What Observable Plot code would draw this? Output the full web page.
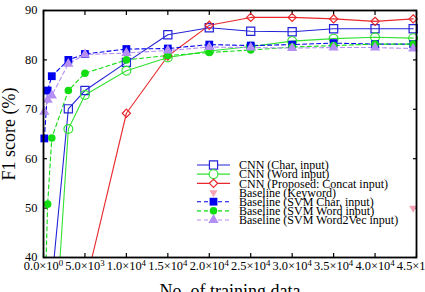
<!DOCTYPE html>
<html>
<head>
<meta charset="utf-8">
<script src="https://cdn.jsdelivr.net/npm/d3@7"></script>
<script src="https://cdn.jsdelivr.net/npm/@observablehq/plot@0.6"></script>
<style>
  body { margin: 0; background: #fff; }
  #chart { position: relative; width: 425px; height: 292px; overflow: hidden; }
</style>
</head>
<body>
<div id="chart"></div>
<script>
// Training-set sizes used for each family of runs
const svmSizes = [100, 500, 1000, 3000, 5000, 10000, 15000, 20000, 25000, 30000, 35000, 40000, 44600];
const cnnSizes = [1000, 3000, 5000, 10000, 15000, 20000, 25000, 30000, 35000, 40000, 44600];
const concatSizes = [5000, 10000, 15000, 20000, 25000, 30000, 35000, 40000, 44600];
const keywordSizes = [44600];

// F1 scores (%)
const cnnChar   = [35.0, 70.1, 73.8, 79.5, 85.1, 86.5, 85.8, 85.7, 86.3, 86.3, 86.3];
const cnnWord   = [14.0, 66.0, 72.9, 77.8, 80.5, 81.8, 82.7, 83.8, 84.3, 84.6, 84.4];
const cnnConcat = [34.0, 69.2, 80.8, 87.0, 88.6, 88.6, 88.3, 87.8, 88.3];
const keyword   = [50.0];
const svmChar   = [64.1, 73.8, 76.7, 80.0, 81.2, 82.2, 82.3, 83.1, 82.9, 83.1, 83.4, 83.2, 83.2];
const svmWord   = [27.0, 50.8, 64.2, 73.8, 77.3, 80.0, 80.9, 81.5, 82.0, 82.6, 82.9, 83.2, 83.2];
const svmW2v    = [69.5, 71.9, 72.8, 79.2, 81.1, 81.4, 81.9, 82.6, 82.5, 82.4, 82.5, 82.5, 82.3];

// Axis ticks
const xTicks = [0, 5000, 10000, 15000, 20000, 25000, 30000, 35000, 40000, 45000];
const xTickMantissa = ["0.0", "5.0", "1.0", "1.5", "2.0", "2.5", "3.0", "3.5", "4.0", "4.5"];
const xTickExponent = ["0", "3", "4", "4", "4", "4", "4", "4", "4", "4"];
const yTicks = [40, 50, 60, 70, 80, 90];

// Series styling
const seriesDefs = [
  {name: "CNN (Char. input)",               sizes: cnnSizes,     values: cnnChar,   color: "#2323d8", line: true, dash: null,  symbol: "square",   r: 4.6, filled: false},
  {name: "CNN (Word input)",                sizes: cnnSizes,     values: cnnWord,   color: "#33e033", line: true, dash: null,  symbol: "circle",   r: 4.4, filled: false},
  {name: "CNN (Proposed: Concat input)",    sizes: concatSizes,  values: cnnConcat, color: "#e8282c", line: true, dash: null,  symbol: "diamond2", r: 3.7, filled: false},
  {name: "Baseline (Keyword)",              sizes: keywordSizes, values: keyword,   color: "#f6a3b6", line: false, dash: null, symbol: "triangle", r: 3.0, filled: true, rotate: 180},
  {name: "Baseline (SVM Char. input)",      sizes: svmSizes,     values: svmChar,   color: "#0000ee", line: true, dash: "4,3", symbol: "square",   r: 4.4, filled: true},
  {name: "Baseline (SVM Word input)",       sizes: svmSizes,     values: svmWord,   color: "#11dd11", line: true, dash: "4,3", symbol: "circle",   r: 3.8, filled: true},
  {name: "Baseline (SVM Word2Vec input)",   sizes: svmSizes,     values: svmW2v,    color: "#b48ef2", line: true, dash: "4,3", symbol: "triangle", r: 3.8, filled: true}
];

const yMin = 40, yMax = 90;
const serif = "'Liberation Serif', 'Times New Roman', serif";

const marks = [];
for (const s of seriesDefs) {
  const rows = s.sizes.map((n, i) => ({n, f1: s.values[i]}));
  if (s.line) {
    marks.push(Plot.line(rows, {x: "n", y: "f1", stroke: s.color, strokeWidth: 1.1, strokeDasharray: s.dash, clip: true}));
  }
}
for (const s of seriesDefs) {
  const rows = s.sizes.map((n, i) => ({n, f1: s.values[i]}));
  marks.push(Plot.dot(rows, {
    x: "n", y: "f1", symbol: () => s.symbol, r: s.r,
    filter: (d) => d.f1 >= yMin,
    fill: s.filled ? s.color : "none",
    stroke: s.filled ? "none" : s.color,
    strokeWidth: 1.2,
    rotate: s.rotate || 0
  }));
}

const noLabel = () => "";

const chart = Plot.plot({
  width: 425,
  height: 292,
  marginLeft: 43,
  marginRight: 9,
  marginTop: 10,
  marginBottom: 35,
  style: {fontFamily: serif, fontSize: "12px", color: "#000", background: "#fff"},
  symbol: {type: "identity"},
  x: {domain: [0, 45000]},
  y: {domain: [yMin, yMax]},
  marks: [
    // inward tick marks on all four sides
    Plot.axisX(xTicks, {anchor: "bottom", tickSize: -4, tickFormat: noLabel, label: null, strokeWidth: 1.2}),
    Plot.axisX(xTicks, {anchor: "top", tickSize: -4, tickFormat: noLabel, label: null, strokeWidth: 1.2}),
    Plot.axisY(yTicks, {anchor: "left", tickSize: -4, tickFormat: noLabel, label: null, strokeWidth: 1.2}),
    Plot.axisY(yTicks, {anchor: "right", tickSize: -4, tickFormat: noLabel, label: null, strokeWidth: 1.2}),
    // tick labels and titles
    Plot.axisX(xTicks, {anchor: "bottom", tickSize: 0, tickPadding: 4,
      tickFormat: (d) => xTickMantissa[xTicks.indexOf(d)] + "×10^" + xTickExponent[xTicks.indexOf(d)],
      label: "No. of training data", labelAnchor: "center", labelOffset: 39, labelArrow: "none"}),
    Plot.axisY(yTicks, {anchor: "left", tickSize: 0, tickPadding: 6,
      label: "F1 score (%)", labelAnchor: "center", labelOffset: 41, labelArrow: "none"}),
    ...marks,
    Plot.frame({stroke: "#000", strokeWidth: 1.8})
  ]
});

document.getElementById("chart").appendChild(chart);

const svg = d3.select(chart);

// tick label sizes
svg.selectAll('g[aria-label="x-axis tick label"] text, g[aria-label="y-axis tick label"] text')
  .attr("font-size", null).style("font-size", "12.4px").style("font-family", serif);

// superscript exponents in x tick labels
svg.selectAll('g[aria-label="x-axis tick label"] text').each(function () {
  const t = this.textContent;
  const m = t.match(/^(.*)\^(.*)$/);
  if (!m) return;
  const el = d3.select(this);
  el.text(m[1]);
  el.append("tspan").attr("dy", "-0.45em").style("font-size", "8.8px").text(m[2]);
});

// axis title sizes
svg.selectAll('g[aria-label="x-axis label"] text, g[aria-label="y-axis label"] text')
  .attr("font-size", null).style("font-size", "18px").style("font-family", serif);

// legend
const leg = svg.append("g")
  .style("font-family", serif)
  .style("font-size", "12px")
  .attr("text-anchor", "start");
const legX0 = 197, legX1 = 230, legSym = 213.5, legText = 239, legY0 = 165, legStep = 9.17;
seriesDefs.forEach((s, i) => {
  const y = legY0 + i * legStep;
  if (s.line) {
    leg.append("line").attr("x1", legX0).attr("x2", legX1).attr("y1", y).attr("y2", y)
      .attr("stroke", s.color).attr("stroke-width", 1.1).attr("stroke-dasharray", s.dash);
  }
  const sym = {square: d3.symbolSquare, circle: d3.symbolCircle, diamond2: d3.symbolDiamond2, triangle: d3.symbolTriangle}[s.symbol];
  leg.append("path")
    .attr("d", d3.symbol(sym, Math.PI * s.r * s.r)())
    .attr("transform", `translate(${legSym},${y}) rotate(${s.rotate || 0})`)
    .attr("fill", s.filled ? s.color : "white")
    .attr("stroke", s.filled ? "none" : s.color)
    .attr("stroke-width", 1.2);
  leg.append("text").attr("x", legText).attr("y", y).attr("dy", "0.35em").attr("fill", "#000").text(s.name);
});
</script>
</body>
</html>
